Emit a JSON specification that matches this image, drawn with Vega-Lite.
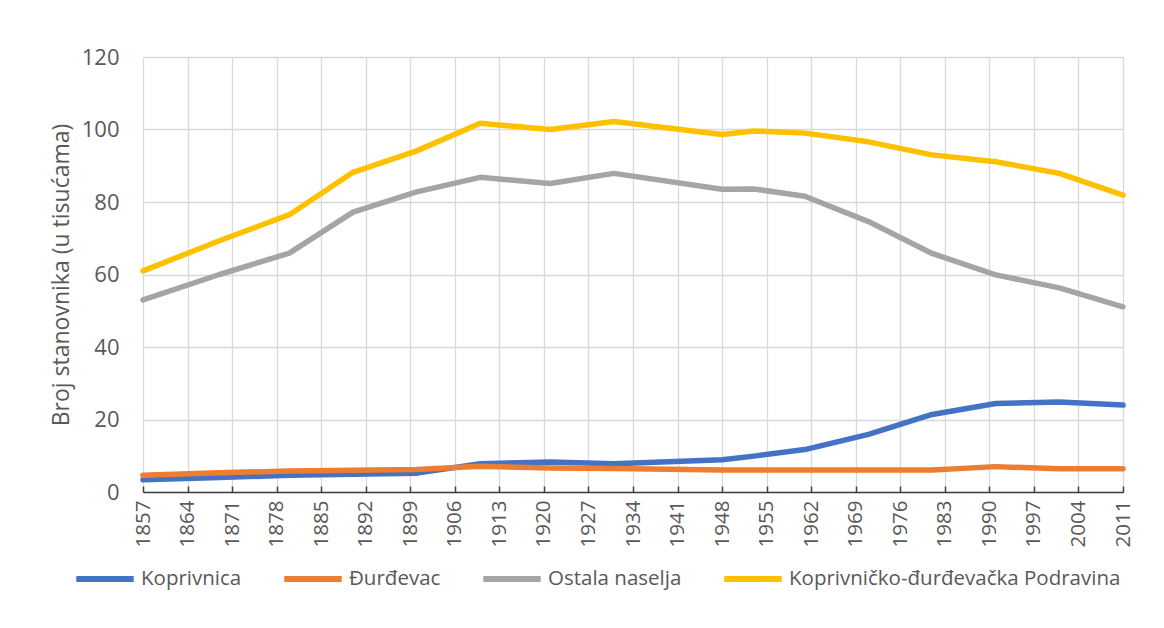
{
  "$schema": "https://vega.github.io/schema/vega-lite/v6.json",
  "autosize": {"type": "none"},
  "width": 980,
  "height": 435,
  "padding": {"left": 143, "top": 57, "right": 41, "bottom": 136},
  "background": "white",
  "config": {
    "view": {"stroke": null},
    "font": "Open Sans",
    "axis": {"labelFont": "Open Sans", "titleFont": "Open Sans", "labelColor": "#595959", "titleColor": "#595959", "gridColor": "#D9D9D9", "gridWidth": 1.3},
    "legend": {"labelFont": "Open Sans"}
  },
  "data": {
    "values": [
      {"year": 1857, "series": "Koprivnica", "value": 3.4},
      {"year": 1869, "series": "Koprivnica", "value": 4.0},
      {"year": 1880, "series": "Koprivnica", "value": 4.6},
      {"year": 1890, "series": "Koprivnica", "value": 4.9},
      {"year": 1900, "series": "Koprivnica", "value": 5.2},
      {"year": 1910, "series": "Koprivnica", "value": 7.8},
      {"year": 1921, "series": "Koprivnica", "value": 8.3},
      {"year": 1931, "series": "Koprivnica", "value": 7.8},
      {"year": 1948, "series": "Koprivnica", "value": 8.9},
      {"year": 1953, "series": "Koprivnica", "value": 9.9},
      {"year": 1961, "series": "Koprivnica", "value": 11.7},
      {"year": 1971, "series": "Koprivnica", "value": 15.9},
      {"year": 1981, "series": "Koprivnica", "value": 21.4},
      {"year": 1991, "series": "Koprivnica", "value": 24.4},
      {"year": 2001, "series": "Koprivnica", "value": 24.8},
      {"year": 2011, "series": "Koprivnica", "value": 24.0},
      {"year": 1857, "series": "Đurđevac", "value": 4.6},
      {"year": 1869, "series": "Đurđevac", "value": 5.3},
      {"year": 1880, "series": "Đurđevac", "value": 5.8},
      {"year": 1890, "series": "Đurđevac", "value": 6.0},
      {"year": 1900, "series": "Đurđevac", "value": 6.2},
      {"year": 1910, "series": "Đurđevac", "value": 7.1},
      {"year": 1921, "series": "Đurđevac", "value": 6.6},
      {"year": 1931, "series": "Đurđevac", "value": 6.5},
      {"year": 1948, "series": "Đurđevac", "value": 6.1},
      {"year": 1953, "series": "Đurđevac", "value": 6.1},
      {"year": 1961, "series": "Đurđevac", "value": 6.1},
      {"year": 1971, "series": "Đurđevac", "value": 6.1},
      {"year": 1981, "series": "Đurđevac", "value": 6.1},
      {"year": 1991, "series": "Đurđevac", "value": 7.0},
      {"year": 2001, "series": "Đurđevac", "value": 6.4},
      {"year": 2011, "series": "Đurđevac", "value": 6.4},
      {"year": 1857, "series": "Ostala naselja", "value": 53.0},
      {"year": 1869, "series": "Ostala naselja", "value": 60.0},
      {"year": 1880, "series": "Ostala naselja", "value": 65.9},
      {"year": 1890, "series": "Ostala naselja", "value": 77.2},
      {"year": 1900, "series": "Ostala naselja", "value": 82.8},
      {"year": 1910, "series": "Ostala naselja", "value": 86.8},
      {"year": 1921, "series": "Ostala naselja", "value": 85.1},
      {"year": 1931, "series": "Ostala naselja", "value": 87.9},
      {"year": 1948, "series": "Ostala naselja", "value": 83.5},
      {"year": 1953, "series": "Ostala naselja", "value": 83.6},
      {"year": 1961, "series": "Ostala naselja", "value": 81.6},
      {"year": 1971, "series": "Ostala naselja", "value": 74.6},
      {"year": 1981, "series": "Ostala naselja", "value": 65.8},
      {"year": 1991, "series": "Ostala naselja", "value": 59.9},
      {"year": 2001, "series": "Ostala naselja", "value": 56.3},
      {"year": 2011, "series": "Ostala naselja", "value": 51.1},
      {"year": 1857, "series": "Koprivničko-đurđevačka Podravina", "value": 61.0},
      {"year": 1869, "series": "Koprivničko-đurđevačka Podravina", "value": 69.3},
      {"year": 1880, "series": "Koprivničko-đurđevačka Podravina", "value": 76.5},
      {"year": 1890, "series": "Koprivničko-đurđevačka Podravina", "value": 88.2},
      {"year": 1900, "series": "Koprivničko-đurđevačka Podravina", "value": 94.1},
      {"year": 1910, "series": "Koprivničko-đurđevačka Podravina", "value": 101.7},
      {"year": 1921, "series": "Koprivničko-đurđevačka Podravina", "value": 100.0},
      {"year": 1931, "series": "Koprivničko-đurđevačka Podravina", "value": 102.2},
      {"year": 1948, "series": "Koprivničko-đurđevačka Podravina", "value": 98.6},
      {"year": 1953, "series": "Koprivničko-đurđevačka Podravina", "value": 99.6},
      {"year": 1961, "series": "Koprivničko-đurđevačka Podravina", "value": 99.0},
      {"year": 1971, "series": "Koprivničko-đurđevačka Podravina", "value": 96.6},
      {"year": 1981, "series": "Koprivničko-đurđevačka Podravina", "value": 93.0},
      {"year": 1991, "series": "Koprivničko-đurđevačka Podravina", "value": 91.1},
      {"year": 2001, "series": "Koprivničko-đurđevačka Podravina", "value": 87.9},
      {"year": 2011, "series": "Koprivničko-đurđevačka Podravina", "value": 81.9}
    ]
  },
  "mark": {"type": "line", "strokeWidth": 5.5, "strokeCap": "round", "strokeJoin": "round"},
  "encoding": {
    "x": {
      "field": "year",
      "type": "quantitative",
      "scale": {"domain": [1857, 2011], "nice": false, "zero": false},
      "axis": {
        "title": null,
        "values": [1857, 1864, 1871, 1878, 1885, 1892, 1899, 1906, 1913, 1920, 1927, 1934, 1941, 1948, 1955, 1962, 1969, 1976, 1983, 1990, 1997, 2004, 2011],
        "format": "d",
        "labelAngle": -90,
        "labelFontSize": 20.5,
        "labelPadding": 14,
        "tickSize": -6,
        "tickColor": "#404040",
        "tickWidth": 1.5,
        "domainColor": "#404040",
        "domainWidth": 1.5,
        "grid": true,
        "labelOverlap": false
      }
    },
    "y": {
      "field": "value",
      "type": "quantitative",
      "scale": {"domain": [0, 120], "nice": false},
      "axis": {
        "title": "Broj stanovnika (u tisućama)",
        "titleFontSize": 23,
        "titleFontWeight": "normal",
        "titlePadding": 8,
        "values": [0, 20, 40, 60, 80, 100, 120],
        "labelFontSize": 22,
        "labelPadding": 24,
        "ticks": false,
        "domain": false,
        "grid": true
      }
    },
    "color": {
      "field": "series",
      "type": "nominal",
      "sort": ["Koprivnica", "Đurđevac", "Ostala naselja", "Koprivničko-đurđevačka Podravina"],
      "scale": {
        "domain": ["Koprivnica", "Đurđevac", "Ostala naselja", "Koprivničko-đurđevačka Podravina"],
        "range": ["#4472C4", "#ED7D31", "#A5A5A5", "#FFC000"]
      },
      "legend": {
        "title": null,
        "orient": "none",
        "direction": "horizontal",
        "legendX": -70,
        "legendY": 490,
        "symbolType": "stroke",
        "symbolSize": 3300,
        "symbolStrokeWidth": 6,
        "labelFontSize": 20.5,
        "labelColor": "#595959",
        "labelOffset": 4,
        "columnPadding": 30,
        "labelLimit": 500
      }
    }
  }
}
